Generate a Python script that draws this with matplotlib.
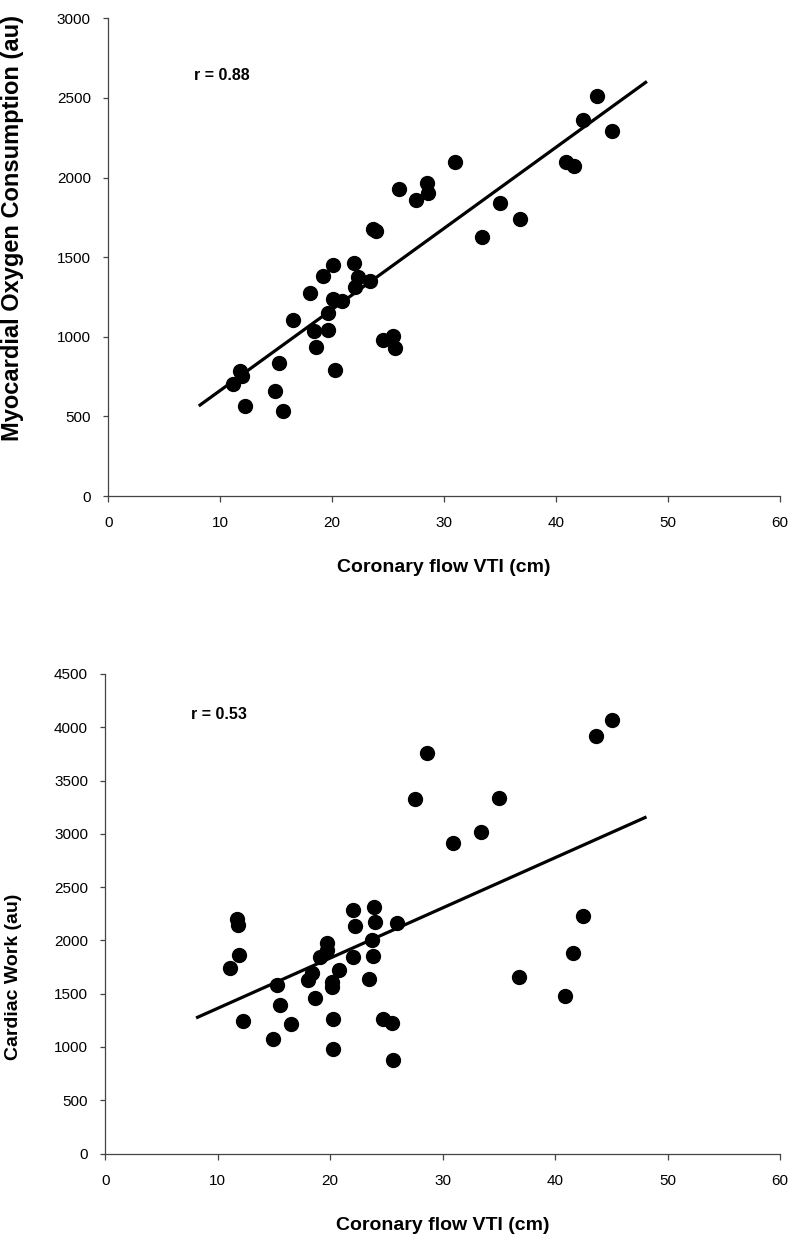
import numpy as np
import matplotlib
matplotlib.use("Agg")
import matplotlib.pyplot as plt

plt.rcParams["font.family"] = ["Liberation Sans", "DejaVu Sans"]

# coronary flow VTI (cm) vs myocardial oxygen consumption (au)
mvo2_vti = [11.1, 11.76, 11.96, 12.2, 14.88, 15.27, 15.57, 16.46, 18.0, 18.37,
            18.6, 19.2, 19.64, 19.64, 20.09, 20.09, 20.24, 20.84, 21.97, 22.03,
            22.27, 23.37, 23.66, 23.96, 24.55, 25.45, 25.6, 25.96, 27.5, 28.5,
            28.57, 31.0, 33.4, 35.0, 36.76, 40.87, 41.6, 42.45, 43.63, 45.03]
mvo2 = [705, 785, 755, 565, 661, 833, 536, 1105, 1277, 1038,
        938, 1382, 1042, 1151, 1451, 1235, 791, 1227, 1465, 1311,
        1373, 1350, 1675, 1667, 980, 1005, 927, 1930, 1857, 1964,
        1905, 2096, 1627, 1838, 1740, 2096, 2072, 2361, 2510, 2294]

# coronary flow VTI (cm) vs cardiac work (au)
work_vti = [11.11, 11.74, 11.83, 11.92, 12.2, 14.88, 15.24, 15.56, 16.48, 18.05,
            18.4, 18.65, 19.09, 19.69, 19.69, 20.13, 20.13, 20.22, 20.22, 20.81,
            22.05, 22.23, 22.05, 23.42, 23.69, 23.9, 24.0, 23.84, 24.67, 25.47,
            25.61, 25.9, 27.57, 28.58, 30.95, 33.41, 35.01, 36.79, 40.91, 41.62,
            42.45, 43.64, 45.06]
work = [1739, 2205, 2142, 1864, 1239, 1077, 1586, 1398, 1211, 1627,
        1695, 1464, 1845, 1976, 1914, 1611, 1564, 1258, 977, 1720,
        2283, 2133, 1845, 1642, 2008, 2314, 2177, 1852, 1258, 1226,
        877, 2164, 3327, 3758, 2914, 3017, 3339, 1655, 1477, 1883,
        2227, 3917, 4067]

# regression lines (slope, intercept) and x range
mvo2_fit = (50.9, 154)
work_fit = (47.1, 892)
fit_range = [8.2, 48.0]

mvo2_r = "r = 0.88"
work_r = "r = 0.53"


def scatter_panel(ax, x, y, fit, r_text, ylabel, ymax, ystep):
    """one excel-style scatter with its trend line"""
    ax.plot(x, y, "o", color="black", markersize=10, zorder=3)
    xs = np.array(fit_range)
    ax.plot(xs, fit[0] * xs + fit[1], color="black", linewidth=2.3, zorder=2)

    ax.set_xlim(0, 60)
    ax.set_ylim(0, ymax)
    ax.set_xticks(range(0, 61, 10))
    ax.set_yticks(range(0, ymax + 1, ystep))

    for side in ["top", "right"]:
        ax.spines[side].set_visible(False)
    for side in ["left", "bottom"]:
        ax.spines[side].set_color("#444444")
        ax.spines[side].set_linewidth(0.9)
    ax.tick_params(axis="x", direction="out", length=4.5, width=0.9,
                   color="#444444", labelsize=11, pad=10)
    ax.tick_params(axis="y", direction="out", length=3.5, width=0.9,
                   color="#444444", labelsize=11, pad=9)

    ax.set_xlabel("Coronary flow VTI (cm)", fontsize=14, fontweight="bold")
    ax.xaxis.set_label_coords(0.5, -0.132)
    ax.set_ylabel(ylabel, fontweight="bold")
    ax.text(0.127, 0.0, r_text, transform=ax.transAxes, fontsize=11.5,
            fontweight="bold", va="center", ha="left")
    return ax


fig = plt.figure(figsize=(7.92, 12.41), dpi=100)
ax1 = fig.add_axes([0.1367, 0.6003, 0.8481, 0.385])
ax2 = fig.add_axes([0.1330, 0.0705, 0.8518, 0.3864])

scatter_panel(ax1, mvo2_vti, mvo2, mvo2_fit, mvo2_r,
              "Myocardial Oxygen Consumption (au)", 3000, 500)
ax1.texts[0].set_y(0.881)
ax1.yaxis.label.set_fontsize(17)
ax1.yaxis.set_label_coords(-0.125, 0.56)

scatter_panel(ax2, work_vti, work, work_fit, work_r,
              "Cardiac Work (au)", 4500, 500)
ax2.texts[0].set_y(0.9145)
ax2.yaxis.label.set_fontsize(14)
ax2.yaxis.set_label_coords(-0.1235, 0.368)

fig.savefig("out.png", dpi=100)
